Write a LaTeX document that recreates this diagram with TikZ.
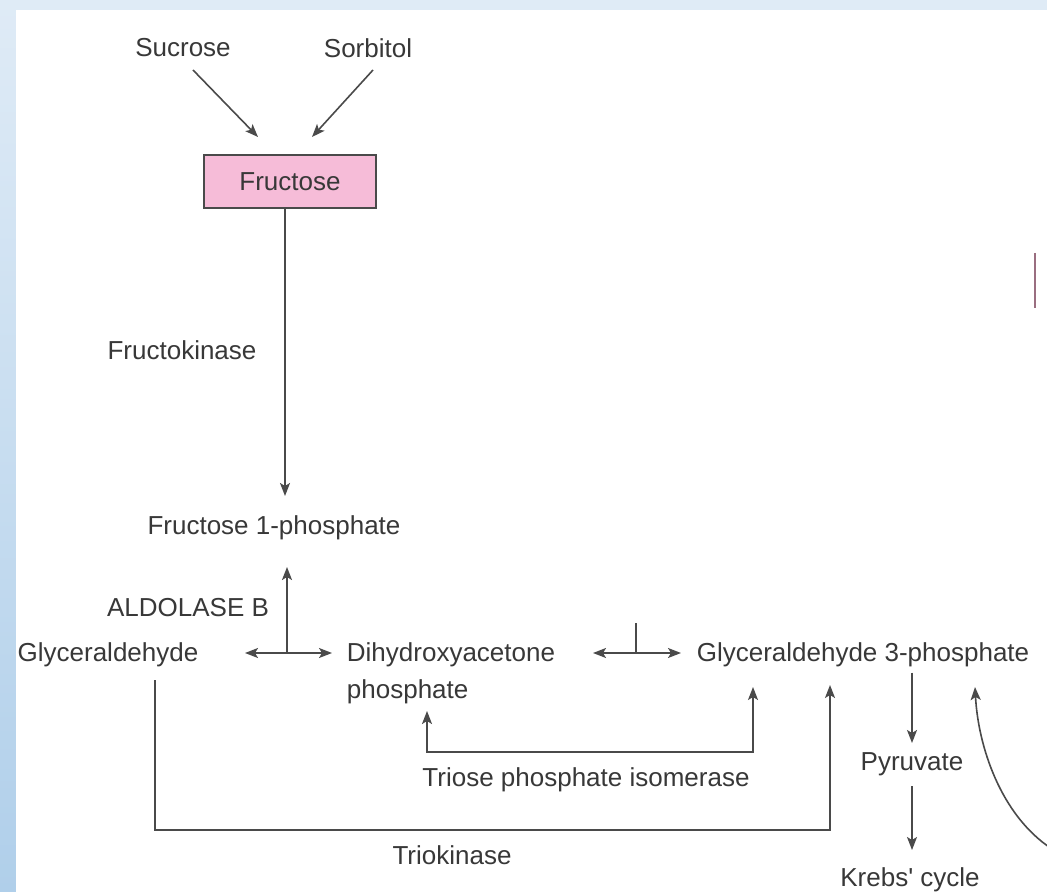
\documentclass[tikz,border=0pt]{standalone}
\usepackage{fontspec}
\setmainfont{Liberation Sans}[Ligatures=TeXOff]
\usetikzlibrary{arrows.meta}

\definecolor{bgtop}{HTML}{DFEBF6}
\definecolor{bgbot}{HTML}{B0CFEA}
\definecolor{boxpink}{HTML}{F6BCD8}
\definecolor{txtgray}{HTML}{383838}
\definecolor{linegray}{HTML}{4A4A4A}
\definecolor{markrose}{HTML}{9A6E80}

\tikzset{
  lbl/.style={text=txtgray, font=\fontsize{13}{18.5}\selectfont, inner sep=0pt},
  sugarbox/.style={lbl, draw=linegray, line width=0.75pt, fill=boxpink,
    minimum width=86pt, minimum height=26.5pt},
  arr/.style={draw=linegray, line width=0.8pt, -{Stealth[length=6.5pt,width=5pt,inset=1.5pt]}},
  arrboth/.style={draw=linegray, line width=0.8pt,
    {Stealth[length=6.5pt,width=5pt,inset=1.5pt]}-{Stealth[length=6.5pt,width=5pt,inset=1.5pt]}},
  plain/.style={draw=linegray, line width=0.8pt}
}

\begin{document}
\begin{tikzpicture}[x=0.5pt,y=-0.5pt]
	% background and panel
	\useasboundingbox (0,0) rectangle (1047,892);
	\fill[top color=bgtop, bottom color=bgbot] (0,0) rectangle (1047,892);
	\fill[white] (16,10) rectangle (1047,892);
	\draw[markrose, line width=1.3pt] (1035,253) -- (1035,308);
	% sources and fructose
	\node[lbl] (sucrose) at (183,48) {Sucrose};
	\node[lbl] (sorbitol) at (368,48) {Sorbitol};
	\node[sugarbox] (fructose) at (290,181.5) {Fructose};
	\coordinate (sucin) at (258,137);
	\coordinate (sorin) at (312,137);
	\draw[arr] (193,70) coordinate (sucout) -- (sucin);
	\draw[arr] (373,70) coordinate (sorout) -- (sorin);
	% fructokinase step
	\node[lbl] (fructokinase) at (182,350) {Fructokinase};
	\node[lbl] (f1p) at (274,528) {Fructose 1-phosphate};
	\coordinate (f1pin) at (285,496);
	\draw[arr] (fructose.south -| f1pin) -- (f1pin);
	% aldolase B split
	\node[lbl] (aldolase) at (188,608) {ALDOLASE B};
	\node[lbl] (gly) at (108,655) {Glyceraldehyde};
	\node[lbl, align=left] (dhap) at (451,673) {Dihydroxyacetone\\phosphate};
	\node[lbl] (gap) at (863,655) {Glyceraldehyde 3-phosphate};
	\coordinate (aldo) at (287,653);
	\coordinate (f1pout) at (287,567);
	\coordinate (glyin) at (245,653);
	\coordinate (dhapin) at (332,653);
	\draw[arr] (aldo) -- (f1pout);
	\draw[arr] (aldo) -- (glyin);
	\draw[arr] (aldo) -- (dhapin);
	% dhap <-> gap
	\coordinate (dhapgap) at (636,653);
	\coordinate (dhapout) at (593,653);
	\coordinate (gapin) at (681,653);
	\draw[arrboth] (dhapout) -- (gapin);
	\draw[plain] (dhapgap) -- ++(0,-30);
	% triose phosphate isomerase
	\node[lbl] (tpi) at (586,780) {Triose phosphate isomerase};
	\coordinate (tpil) at (427,711);
	\coordinate (tpicorner) at (753,752);
	\coordinate (tpir) at (753,687);
	\draw[arrboth] (tpil) |- (tpicorner) -- (tpir);
	% triokinase
	\node[lbl] (triokinase) at (452,855) {Triokinase};
	\coordinate (trkstart) at (155,680);
	\coordinate (trkcorner) at (830,830);
	\coordinate (trkend) at (830,685);
	\draw[arr] (trkstart) |- (trkcorner) -- (trkend);
	% glycolysis
	\node[lbl] (pyr) at (912,764) {Pyruvate};
	\node[lbl] (krebs) at (910,880) {Krebs' cycle};
	\coordinate (pyrin) at (912,743);
	\coordinate (krebsin) at (912,850);
	\draw[arr] (gap.south -| pyrin) ++(0,5) -- (pyrin);
	\draw[arr] (pyr.south -| krebsin) ++(0,10) -- (krebsin);
	% return from the right
	\coordinate (cycout) at (1052,849);
	\coordinate (gapin2) at (975,687);
	\draw[arr] (cycout) .. controls (1000,815) and (978,745) .. (gapin2);
\end{tikzpicture}
\end{document}
